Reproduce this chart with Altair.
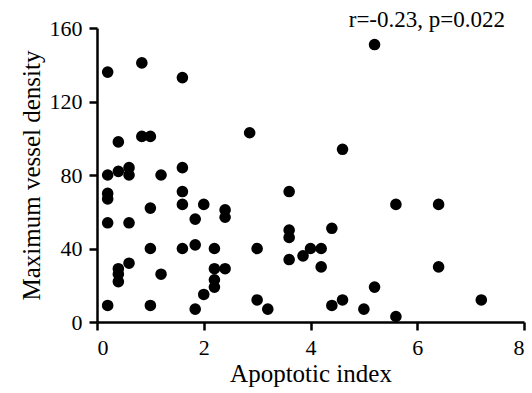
import altair as alt
import pandas as pd

apoptotic_index = [
    0.2, 0.84, 1.6, 0.4, 0.84, 1.0,
    0.2, 0.4, 0.6, 0.6, 1.2, 1.6,
    0.2, 0.2, 1.6, 1.0, 1.6, 2.0, 1.84, 2.4, 2.4,
    0.2, 0.6, 1.0, 1.6, 1.84, 2.2,
    0.6, 0.4, 0.4, 0.4, 1.2, 2.2, 2.2, 2.2, 2.4,
    2.0, 1.84, 0.2, 1.0,
    2.86, 4.6,
    3.6, 3.6, 3.6, 4.4, 3.0, 4.0, 4.2, 3.86, 3.6, 4.2,
    3.0, 3.2, 4.4, 4.6,
    5.2, 5.6, 6.4, 6.4, 5.2, 5.0, 5.6, 7.2,
]
vessel_density = [
    136, 141, 133, 98, 101, 101,
    80, 82, 84, 80, 80, 84,
    70, 67, 71, 62, 64, 64, 56, 61, 57,
    54, 54, 40, 40, 42, 40,
    32, 29, 26, 22, 26, 29, 23, 19, 29,
    15, 7, 9, 9,
    103, 94,
    71, 50, 46, 51, 40, 40, 40, 36, 34, 30,
    12, 7, 9, 12,
    151, 64, 64, 30, 19, 7, 3, 12,
]
annotation = "r=-0.23, p=0.022"

df = pd.DataFrame({"x": apoptotic_index, "y": vessel_density})

FONT = "Liberation Serif"

axis_style = dict(
    labelFont=FONT, labelFontSize=22, labelColor="black", labelPadding=7,
    titleFont=FONT, titleFontSize=25, titleFontWeight="normal", titleColor="black",
    domainColor="black", domainWidth=2.5,
    tickColor="black", tickWidth=2.5, tickSize=8, grid=False, format="d",
)

points = alt.Chart(df).mark_circle(size=135, color="black", opacity=1).encode(
    x=alt.X("x:Q", scale=alt.Scale(domain=[0, 8], nice=False),
            axis=alt.Axis(values=[0, 2, 4, 6, 8], title="Apoptotic index",
                          titlePadding=3, **axis_style)),
    y=alt.Y("y:Q", scale=alt.Scale(domain=[0, 160], nice=False),
            axis=alt.Axis(values=[0, 40, 80, 120, 160], title="Maximum vessel density",
                          titlePadding=5, **axis_style)),
)

text = alt.Chart(pd.DataFrame({"t": [annotation]})).mark_text(
    align="right", baseline="alphabetic", font=FONT, fontSize=23, color="black"
).encode(x=alt.value(408), y=alt.value(-1), text="t:N")

chart = (points + text).properties(
    width=427, height=294,
    autosize=alt.AutoSizeParams(type="none"),
    padding={"left": 97, "top": 28, "right": 8, "bottom": 71},
).configure_view(stroke=None)

chart.save("out.html", embed_options={"renderer": "svg", "actions": False})
